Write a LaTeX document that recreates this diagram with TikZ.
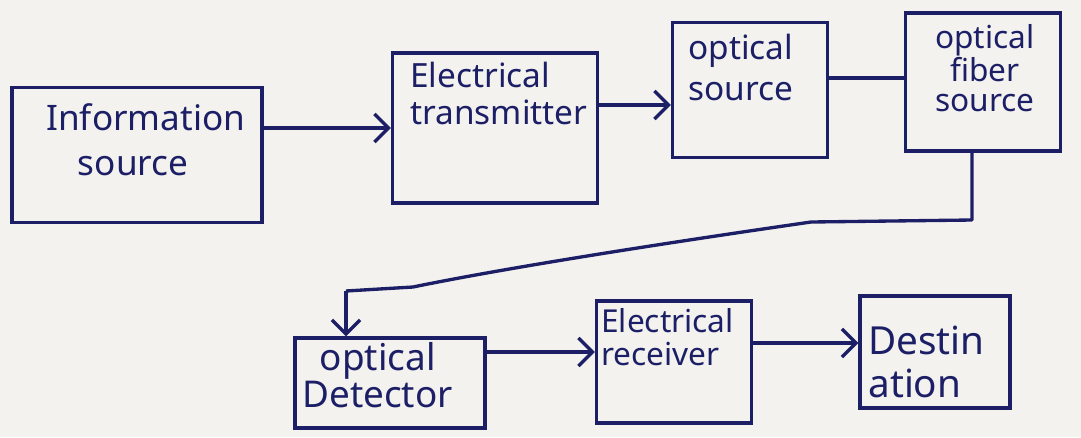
\documentclass[tikz,border=0pt]{standalone}
\usepackage{fontspec}
\setmainfont{Noto Sans}
\usetikzlibrary{arrows.meta}
\definecolor{ink}{HTML}{1C1F66}
\definecolor{paper}{HTML}{F3F2EF}
\begin{document}
\begin{tikzpicture}[x=0.02cm,y=-0.02cm,
  box/.style={draw=ink,line width=1.9pt,rectangle,inner sep=0pt,align=left,text=ink},
  lbl/.style={text=ink,align=left,anchor=north west,inner sep=0pt},
  arr/.style={draw=ink,line width=1.9pt,-{Straight Barb[length=8pt,width=16pt,line width=1.9pt]}},
  wire/.style={draw=ink,line width=1.9pt}]
\fill[paper] (0,0) rectangle (1081,437);
\useasboundingbox (0,0) rectangle (1081,437);
% boxes
\node[box,minimum width=250*0.02cm,minimum height=135*0.02cm] (info) at (137,155) {};
\node[lbl,font=\fontsize{20}{26}\selectfont] (infot) at (46,103) {Information\\\hspace*{18pt}source};
\node[box,minimum width=205*0.02cm,minimum height=150*0.02cm] (trans) at (495,128) {};
\node[lbl,font=\fontsize{19}{21}\selectfont] (transt) at (410,62) {Electrical\\transmitter};
\node[box,minimum width=155*0.02cm,minimum height=135*0.02cm] (osrc) at (750,90) {};
\node[lbl,font=\fontsize{19}{23}\selectfont] (osrct) at (688,34) {optical\\source};
\node[box,minimum width=155*0.02cm,minimum height=138*0.02cm] (fiber) at (983,82) {};
\node[text=ink,inner sep=0pt,font=\fontsize{18}{17}\selectfont,align=center,anchor=north] (fibert) at (985,24) {optical\\fiber\\source};
\node[box,minimum width=190*0.02cm,minimum height=90*0.02cm] (det) at (390,383) {};
\node[lbl,font=\fontsize{21}{19}\selectfont] (dett) at (302,342) {\hspace*{10pt}optical\\Detector};
\node[box,minimum width=155*0.02cm,minimum height=122*0.02cm] (rec) at (674,362) {};
\node[lbl,font=\fontsize{18}{19}\selectfont] (rect) at (601,308) {Electrical\\receiver};
\node[box,minimum width=150*0.02cm,minimum height=112*0.02cm] (dest) at (935,352) {};
\node[lbl,font=\fontsize{22}{24}\selectfont] (destt) at (868,326) {Destin\\ation};
% connectors
\coordinate (a1) at (info.east |- 0,128);
\draw[arr] (a1) -- (trans.west |- a1);
\coordinate (a2) at (trans.east |- 0,105);
\draw[arr] (a2) -- (osrc.west |- a2);
\coordinate (a3) at (osrc.east |- 0,78);
\draw[wire] (a3) -- (fiber.west |- a3);
\coordinate (f0) at ([xshift=-0.22cm]fiber.south);
\coordinate (c1) at (972,220);
\coordinate (c2) at (811,222);
\coordinate (c3) at (413,287);
\coordinate (c4) at (346,291);
\draw[wire,line join=round] (f0) -- (c1) -- (c2) .. controls (700,238) and (520,265) .. (c3) -- (c4);
\draw[arr] (c4) -- (c4 |- det.north);
\coordinate (a5) at (det.east |- 0,352);
\draw[arr] (a5) -- (rec.west |- a5);
\coordinate (a6) at (rec.east |- 0,343);
\draw[arr] (a6) -- (dest.west |- a6);
\end{tikzpicture}
\end{document}
